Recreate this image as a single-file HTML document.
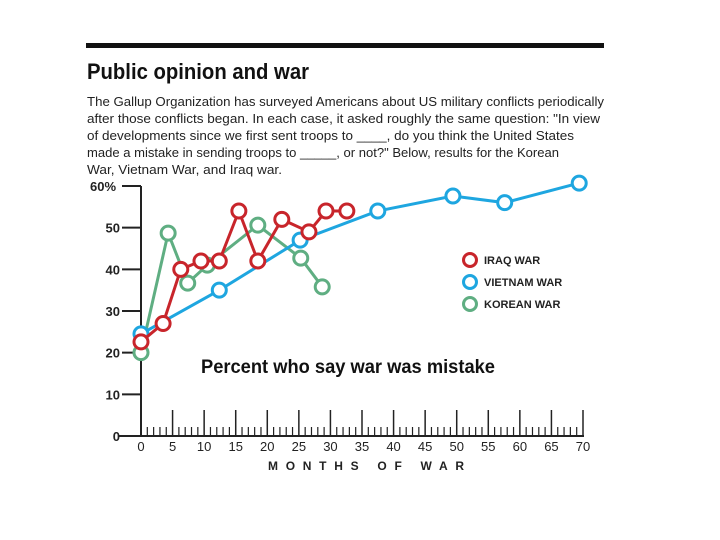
<!DOCTYPE html>
<html><head><meta charset="utf-8"><style>
body{margin:0;background:#fff;width:720px;height:540px;overflow:hidden}
svg{display:block;font-family:"Liberation Sans",sans-serif}
</style></head><body>
<svg id="c" width="720" height="540">
<rect x="86" y="43" width="518" height="5" fill="#111"/>
<text x="87" y="79" font-size="22" font-weight="bold" fill="#111" textLength="222" lengthAdjust="spacingAndGlyphs">Public opinion and war</text>
<g font-size="13" fill="#222">
<text x="87" y="106" textLength="517" lengthAdjust="spacingAndGlyphs">The Gallup Organization has surveyed Americans about US military conflicts periodically</text>
<text x="87" y="123" textLength="513" lengthAdjust="spacingAndGlyphs">after those conflicts began. In each case, it asked roughly the same question: "In view</text>
<text x="87" y="140" textLength="487" lengthAdjust="spacingAndGlyphs">of developments since we first sent troops to ____, do you think the United States</text>
<text x="87" y="157" textLength="472" lengthAdjust="spacingAndGlyphs">made a mistake in sending troops to _____, or not?" Below, results for the Korean</text>
<text x="87" y="174" textLength="195" lengthAdjust="spacingAndGlyphs">War, Vietnam War, and Iraq war.</text>
</g>
<g id="axes"></g>
<g id="series"></g>
<text x="201" y="373" font-size="19" font-weight="bold" fill="#111" textLength="294" lengthAdjust="spacingAndGlyphs">Percent who say war was mistake</text>
<text x="268" y="470" font-size="12" font-weight="bold" fill="#222" textLength="196" lengthAdjust="spacing">MONTHS OF WAR</text>
<g id="legend"></g>
</svg>
<script>
const iraqX=[0,3.5,6.3,9.5,12.4,15.5,18.5,22.3,26.6,29.3,32.6];
const iraqY=[22.6,27,40,42,42,54,42,52,49,54,54];
const vietX=[0,12.4,25.2,37.5,49.4,57.6,69.4];
const vietY=[24.5,35,47,54,57.6,56,60.7];
const korX=[0,4.3,7.4,10.5,18.5,25.3,28.7];
const korY=[20,48.7,36.7,41,50.6,42.7,35.8];
const yTicks=[0,10,20,30,40,50,60];
const yLabels=["0","10","20","30","40","50","60%"];
const xTicks=[0,5,10,15,20,25,30,35,40,45,50,55,60,65,70];
const NS="http://www.w3.org/2000/svg";
const sx=m=>141+m*(583-141)/70;
const sy=v=>436-v*(436-186)/60;
function mk(t,a,p){const e=document.createElementNS(NS,t);for(const k in a)e.setAttribute(k,a[k]);p.appendChild(e);return e;}
const ax=document.getElementById('axes');
let l=mk('line',{x1:141,y1:186,x2:141,y2:436,stroke:'#222','stroke-width':2},ax);


l=mk('line',{x1:118,y1:436,x2:584,y2:436,stroke:'#222','stroke-width':2},ax);


yTicks.forEach((v,i)=>{
 const t=mk('line',{x1:122,y1:sy(v),x2:141,y2:sy(v),stroke:'#222','stroke-width':2},ax);
 
 
 const tx=mk('text',{x:i==6?90:120,y:sy(v)+5,'font-size':13,'font-weight':'bold',fill:'#222','text-anchor':i==6?'start':'end'},ax);
 tx.textContent=yLabels[i];
 
 
});
for(let m=1;m<=70;m++){
 const major=m%5==0;
 const t=mk('line',{x1:sx(m),y1:major?410:427,x2:sx(m),y2:436,stroke:'#222','stroke-width':major?1.5:1.2},ax);
 
 
}
xTicks.forEach(v=>{
 const tx=mk('text',{x:sx(v),y:451,'font-size':13,fill:'#222','text-anchor':'middle'},ax);
 tx.textContent=v;
 
 
});
const sg=document.getElementById('series');
function series(xs,ys,col,name){
 const g=mk('g',{},sg);
 
 
 const p=mk('polyline',{points:xs.map((x,i)=>sx(x)+','+sy(ys[i])).join(' '),fill:'none',stroke:col,'stroke-width':3},g);
 
 
 xs.forEach((x,i)=>{
  const c=mk('circle',{cx:sx(x),cy:sy(ys[i]),r:7,fill:'#fff',stroke:col,'stroke-width':3},g);
  
  
 });
}
series(korX,korY,'#5fae82','korean');
series(vietX,vietY,'#1ea6e0','vietnam');
series(iraqX,iraqY,'#c8252b','iraq');
const lg=document.getElementById('legend');
[['IRAQ WAR','#c8252b'],['VIETNAM WAR','#1ea6e0'],['KOREAN WAR','#5fae82']].forEach((d,i)=>{
 const y=260+i*22;
 const g=mk('g',{},lg);
 
 
 mk('circle',{cx:470,cy:y,r:6.5,fill:'#fff',stroke:d[1],'stroke-width':3},g);
 const t=mk('text',{x:484,y:y+4,'font-size':11,'font-weight':'bold',fill:'#222'},g);
 t.textContent=d[0];
});
</script>
</body></html>
